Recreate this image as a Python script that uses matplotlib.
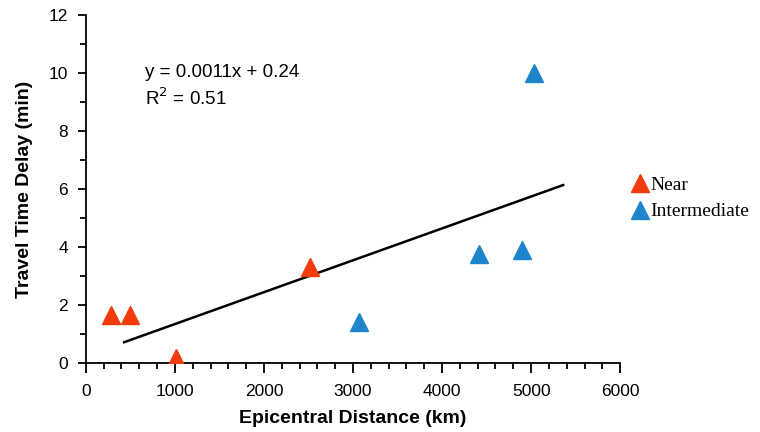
import numpy as np
import matplotlib.pyplot as plt
from matplotlib.ticker import MultipleLocator

# Data
near_x = [280, 500, 1010, 2520]
near_y = [1.65, 1.65, 0.18, 3.3]
inter_x = [3070, 4420, 4900, 5030]
inter_y = [1.42, 3.75, 3.9, 10.0]

slope = 0.0011
intercept = 0.24
fit_range = [430, 5360]

plt.rcParams['font.family'] = ['Liberation Sans', 'DejaVu Sans']

fig = plt.figure(figsize=(7.6, 4.32), dpi=100)
ax = fig.add_axes([0.113, 0.16, 0.703, 0.805])

# Trend line
xf = np.array(fit_range)
ax.plot(xf, slope * xf + intercept, color='black', lw=1.8, zorder=2)

ax.plot(near_x, near_y, '^', color='#F23C0E', markersize=13,
        linestyle='none', label='Near', zorder=3)
ax.plot(inter_x, inter_y, '^', color='#1E84CC', markersize=13,
        linestyle='none', label='Intermediate', zorder=3)

ax.set_xlim(0, 6000)
ax.set_ylim(0, 12)
ax.xaxis.set_major_locator(MultipleLocator(1000))
ax.xaxis.set_minor_locator(MultipleLocator(200))
ax.yaxis.set_major_locator(MultipleLocator(2))
ax.yaxis.set_minor_locator(MultipleLocator(1))
ax.tick_params(which='major', direction='out', length=7, width=1.3, labelsize=12.5)
ax.tick_params(which='minor', direction='out', length=4, width=1.3)
ax.tick_params(axis='y', which='major', length=6, pad=7)
ax.tick_params(axis='x', which='major', pad=8)

for s in ['top', 'right']:
    ax.spines[s].set_visible(False)
for s in ['left', 'bottom']:
    ax.spines[s].set_linewidth(1.3)

ax.set_xlabel('Epicentral Distance (km)', fontsize=14, fontweight='bold', labelpad=8)
ax.set_ylabel('Travel Time Delay (min)', fontsize=14, fontweight='bold', labelpad=11)

ax.text(0.11, 0.795, 'y = 0.0011x + 0.24\nR$^2$ = 0.51', transform=ax.transAxes,
        fontsize=13.5, va='center', ha='left', linespacing=1.35)

fig.legend(loc='upper left', bbox_to_anchor=(0.812, 0.632), frameon=False,
           handlelength=0.6, handletextpad=0.2, labelspacing=0.45,
           prop={'family': ['Liberation Serif', 'DejaVu Serif'], 'size': 14})

fig.savefig('out.png', dpi=100)
